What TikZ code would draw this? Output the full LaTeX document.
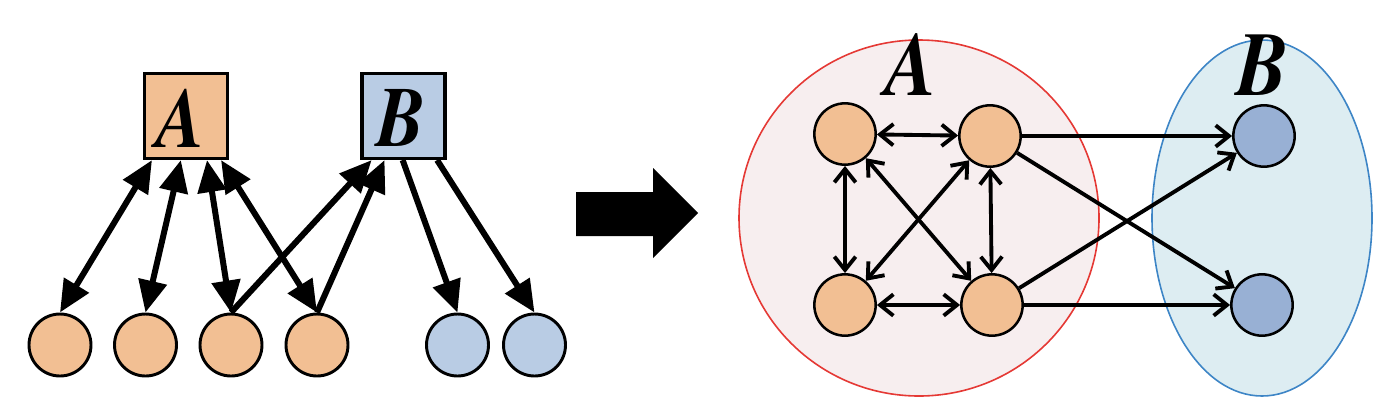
\documentclass[tikz,border=0pt]{standalone}
\usepackage{fontspec}
\usepackage{graphicx}
\newfontfamily\tnrbi{texgyretermes-bolditalic.otf}
\newcommand{\glyphL}[1]{\scalebox{0.86}[1]{\fontsize{64}{64}\selectfont\tnrbi #1}}
\newcommand{\glyphR}[1]{\scalebox{0.86}[1]{\fontsize{68}{68}\selectfont\tnrbi #1}}
\usetikzlibrary{arrows.meta,shapes.geometric,calc}
\definecolor{orng}{HTML}{F2BF93}
\definecolor{lblue}{HTML}{B9CCE4}
\definecolor{dblue}{HTML}{98B0D4}
\definecolor{pinkfill}{HTML}{F7EEEF}
\definecolor{redline}{HTML}{E53935}
\definecolor{bluefill}{HTML}{DDEDF2}
\definecolor{blueline}{HTML}{3D85C6}
\begin{document}
\begin{tikzpicture}[x=0.75pt,y=-0.75pt,
  leftcirc/.style={circle,draw=black,line width=2.2pt,minimum size=46.5pt,inner sep=0pt},
  rightcirc/.style={circle,draw=black,line width=1.9pt,minimum size=46pt,inner sep=0pt},
  boxnode/.style={rectangle,draw=black,line width=2.6pt,minimum width=62pt,minimum height=63.5pt,inner sep=0pt},
  lab/.style={inner sep=0pt,anchor=base},
  bigtip/.tip={Triangle[length=24pt,width=21pt]},
  bartip/.tip={Straight Barb[length=10pt,width=16pt]},
  heavy/.style={line width=4.5pt},
  lightarr/.style={line width=2.9pt},
  group/.style={ellipse,line width=1.2pt,inner sep=0pt}
]
\useasboundingbox (0,0) rectangle (1388,408);
% ---------- left part ----------
\node[boxnode,fill=orng] (A) at (186,116) {};
\node[boxnode,fill=lblue] (B) at (403.5,116) {};
\node[lab] (Atxt) at (181,147) {\glyphL{A}};
\node[lab] (Btxt) at (401,146) {\glyphL{B}};
\node[leftcirc,fill=orng] (c1) at (60,345) {};
\node[leftcirc,fill=orng] (c2) at (145.5,345) {};
\node[leftcirc,fill=orng] (c3) at (231,345) {};
\node[leftcirc,fill=orng] (c4) at (317,345) {};
\node[leftcirc,fill=lblue] (c5) at (457.5,345) {};
\node[leftcirc,fill=lblue] (c6) at (534.5,345) {};
\draw[heavy,bigtip-bigtip] ($(A.south west)!0.105!(A.south east)$) -- (c1.north);
\draw[heavy,bigtip-bigtip] ($(A.south west)!0.44!(A.south east)$) -- (c2.north);
\draw[heavy,bigtip-bigtip] ($(A.south west)!0.744!(A.south east)$) -- (c3.north);
\draw[heavy,bigtip-bigtip] ($(A.south west)!0.907!(A.south east)$) -- (c4.north);
\draw[heavy,-bigtip] (c3.north) -- ($(B.south west)!0.13!(B.south east)$);
\draw[heavy,-bigtip] (c4.north) -- ($(B.south west)!0.28!(B.south east)$);
\draw[heavy,-bigtip] ($(B.south west)!0.49!(B.south east)$) -- (c5.north);
\draw[heavy,-bigtip] ($(B.south west)!0.89!(B.south east)$) -- (c6.north);
% ---------- big arrow ----------
\fill[black] (576,192) -- (653,192) -- (653,168) -- (698,213) -- (653,258) -- (653,236) -- (576,236) -- cycle;
% ---------- right part ----------
\node[group,draw=redline,fill=pinkfill,minimum width=270pt,minimum height=267pt] (GA) at (919,218) {};
\node[group,draw=blueline,fill=bluefill,minimum width=165pt,minimum height=267pt] (GB) at (1262,218) {};
\node[lab] (GAtxt) at (911,95) {\glyphR{A}};
\node[lab] (GBtxt) at (1262,95) {\glyphR{B}};
\node[rightcirc,fill=orng] (tl) at (845,134) {};
\node[rightcirc,fill=orng] (tr) at (990,136) {};
\node[rightcirc,fill=orng] (bl) at (845,305) {};
\node[rightcirc,fill=orng] (br) at (992,305) {};
\node[rightcirc,fill=dblue] (tb) at (1264,136) {};
\node[rightcirc,fill=dblue] (bb) at (1262,305) {};
\draw[lightarr,bartip-bartip] (tl) -- (tr);
\draw[lightarr,bartip-bartip] (bl) -- (br);
\draw[lightarr,bartip-bartip] (tl) -- (bl);
\draw[lightarr,bartip-bartip] (tr) -- (br);
\draw[lightarr,bartip-bartip] (tl) -- (br);
\draw[lightarr,bartip-bartip] (tr) -- (bl);
\draw[lightarr,-bartip] (tr) -- (tb);
\draw[lightarr,-bartip] (tr) -- (bb);
\draw[lightarr,-bartip] (br) -- (tb);
\draw[lightarr,-bartip] (br) -- (bb);
\end{tikzpicture}
\end{document}
